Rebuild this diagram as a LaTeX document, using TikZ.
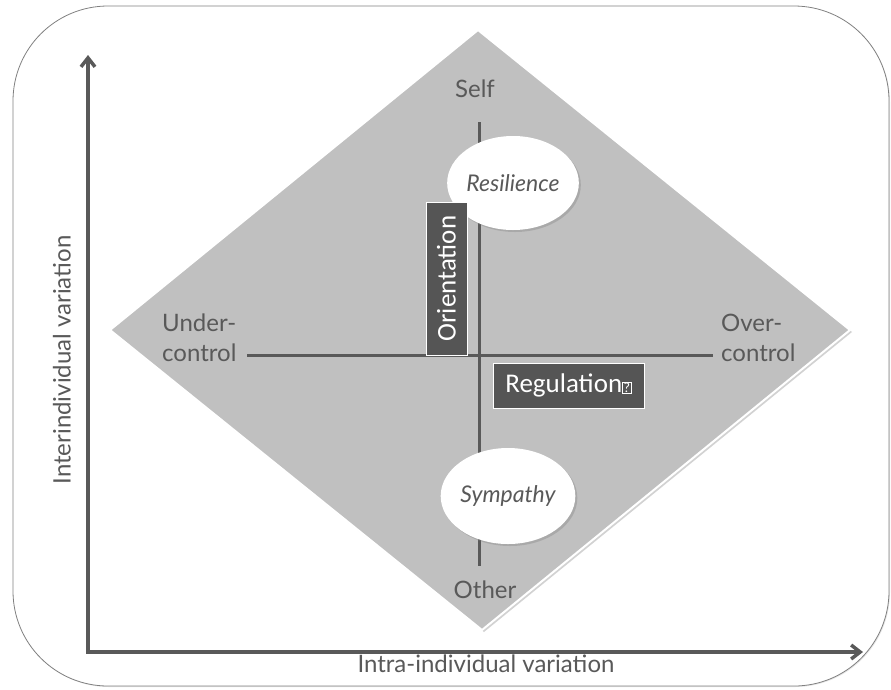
\documentclass[tikz,border=0pt]{standalone}
\usepackage{fontspec}
\setmainfont{Lato}
\newfontfamily\calibrifont{Carlito}
\usetikzlibrary{shapes.geometric,arrows.meta,shadows}
\definecolor{inkgray}{HTML}{595959}
\definecolor{fieldgray}{HTML}{C0C0C0}
\definecolor{boxgray}{HTML}{555555}
\newcommand{\missingglyph}{{\fboxsep=0.8pt\fboxrule=0.7pt\fbox{\fontsize{14}{14}\selectfont ?}}}

\begin{document}
\begin{tikzpicture}[x=1pt,y=-1pt,
  axisline/.style={line width=3.5pt,draw=inkgray},
  crossline/.style={line width=3pt,draw=inkgray},
  lbl/.style={text=inkgray,font=\fontsize{24}{30}\selectfont,inner sep=0pt},
  trait/.style={ellipse,fill=white,inner sep=0pt,text=inkgray,
    font=\fontsize{23}{27}\selectfont\itshape,
    drop shadow={shadow xshift=2pt,shadow yshift=-2pt,opacity=0.35}},
  tagbox/.style={fill=boxgray,draw=white,line width=0.8pt,text=white,
    font=\calibrifont\fontsize{27}{30}\selectfont,inner sep=0pt}]
\useasboundingbox (0,0) rectangle (891,689);
% frame and field
\draw[fill=white,draw=gray,line width=0.8pt,rounded corners=95pt,
  drop shadow={shadow xshift=1pt,shadow yshift=-1pt,opacity=0.2}]
  (13,6) rectangle (889,686);
\draw[fill=fieldgray,draw=white,line width=2pt,
  drop shadow={shadow xshift=2pt,shadow yshift=-2pt,opacity=0.35}]
  (110,330) -- (478,30) -- (850,330) -- (482,630) -- cycle;
% axes
\coordinate (origin) at (88,652);
\coordinate (ytip) at (88,55);
\coordinate (xtip) at (863,652);
\draw[axisline,{Straight Barb[length=9pt,width=14pt]}-{Straight Barb[length=9pt,width=14pt]}]
  (ytip) -- (origin) -- (xtip);
\node[lbl] (xlabel) at (486,664) {Intra-individual variation};
\node[lbl,rotate=90] (ylabel) at (62,360) {Interindividual variation};
% cross
\coordinate (selfend) at (479,122);
\coordinate (otherend) at (479,566);
\coordinate (underend) at (247,355);
\coordinate (overend) at (713,355);
\draw[crossline] (selfend) -- (otherend);
\draw[crossline] (underend) -- (overend);
\node[lbl] (self) at (475,89) {Self};
\node[lbl] (other) at (485,590) {Other};
\node[lbl,align=left,anchor=west] (under) at (162,338) {Under-\\control};
\node[lbl,align=left,anchor=west] (over) at (721,338) {Over-\\control};
% poles
\node[trait,minimum width=110pt,minimum height=94pt] (resilience) at (513,183) {Resilience};
\node[trait,minimum width=120pt,minimum height=96pt] (sympathy) at (508,496) {Sympathy};
\node[tagbox,rotate=90,minimum width=153pt,minimum height=41pt] (orientation) at (446.5,278.5) {Orientation};
\node[tagbox,minimum width=151pt,minimum height=45pt] (regulation) at (568.5,385.5) {Regulation\missingglyph};
\end{tikzpicture}
\end{document}
